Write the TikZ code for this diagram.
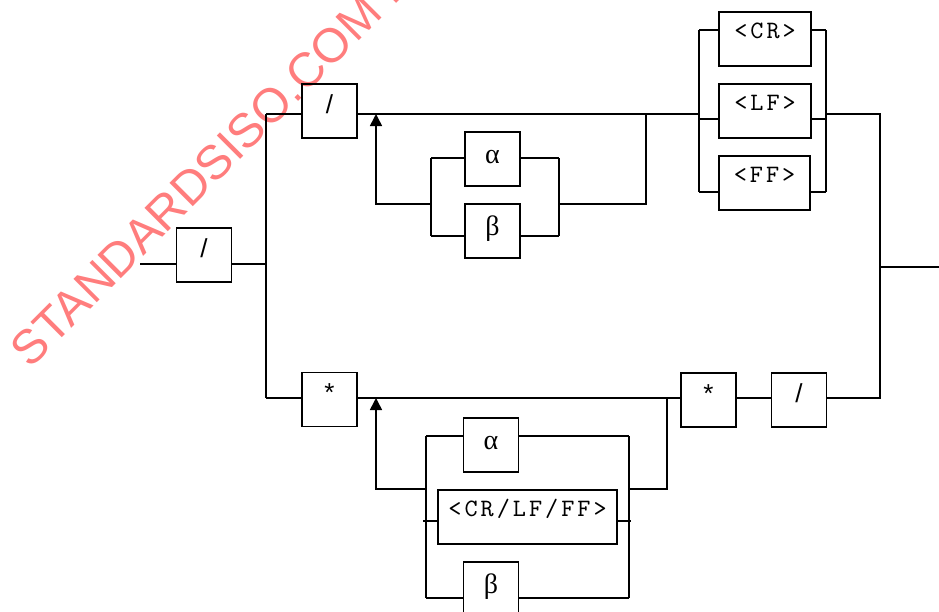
\documentclass[tikz,border=0pt]{standalone}
\usepackage{fontspec}
\setmainfont{Liberation Serif}
\newfontfamily\sansf{Liberation Sans}
\newfontfamily\monof{lmmono10-regular.otf}[LetterSpace=12]
\usetikzlibrary{arrows.meta}
\definecolor{wmred}{RGB}{255,125,125}
\begin{document}
\begin{tikzpicture}[x=1pt,y=-1pt, line width=1.6pt,
  basebox/.style={draw, minimum width=55pt, minimum height=54pt, inner xsep=2pt, inner ysep=0pt},
  sbox/.style={basebox, font=\sansf\fontsize{26}{26}\selectfont, text height=20pt, text depth=16pt},
  mbox/.style={basebox, font=\monof\fontsize{25}{25}\selectfont, text height=18pt, text depth=20pt},
  gbox/.style={basebox, font=\fontsize{28}{28}\selectfont, text height=20pt, text depth=11pt},
  fbarrow/.style={-{Triangle[width=12pt,length=12pt]}},
  watermark/.style={text=wmred, font=\sansf\fontsize{48}{48}\selectfont, rotate=45, anchor=base west, inner sep=0pt}]
\useasboundingbox (0,0) rectangle (939,611);
\clip (0,0) rectangle (939,611);
\node[watermark] (wm) at (30,370) {STANDARDSISO.COM :};
% boxes
\node[sbox] (b1) at (204,255) {/};
\node[sbox] (bs1) at (329.5,111) {/};
\node[gbox] (ba1) at (492.5,159) {α};
\node[gbox] (bb1) at (492.5,231) {β};
\node[mbox, minimum width=92pt] (CR) at (765,39) {<CR>};
\node[mbox, minimum width=92pt] (LF) at (765,111) {<LF>};
\node[mbox, minimum width=91pt] (FF) at (764.5,183) {<FF>};
\node[sbox] (bst1) at (329.5,399.5) {*};
\node[sbox] (bst2) at (708.5,400) {*};
\node[sbox] (bsl2) at (799,400) {/};
\node[gbox] (ba2) at (491,445) {α};
\node[mbox, minimum width=179pt] (bc) at (527.5,517) {<CR/LF/FF>};
\node[gbox] (bb2) at (491,589) {β};
% coordinates
\coordinate (in) at (140,264);
\coordinate (jt) at (266,114);
\coordinate (jb) at (266,398);
\coordinate (rlt) at (699,30);
\coordinate (rlb) at (699,192);
\coordinate (rrt) at (826,30);
\coordinate (rrb) at (826,192);
\coordinate (ot) at (880,114);
\coordinate (ob) at (880,398);
\coordinate (out) at (939,267);
\coordinate (l1a) at (646,114);
\coordinate (l1b) at (646,204);
\coordinate (r1t) at (559,158);
\coordinate (r1b) at (559,236);
\coordinate (q1t) at (431,158);
\coordinate (q1b) at (431,236);
\coordinate (a1) at (376,204);
\coordinate (a1t) at (376,114);
\coordinate (l2a) at (667,398);
\coordinate (l2b) at (667,489);
\coordinate (r2t) at (629,436);
\coordinate (r2b) at (629,598);
\coordinate (q2t) at (426,436);
\coordinate (q2b) at (426,598);
\coordinate (a2) at (376,489);
\coordinate (a2t) at (376,398);
\coordinate (s2l) at (423,521);
\coordinate (s2r) at (631,521);
% main line
\draw (in) -- (b1.west |- in);
\draw (b1.east |- in) -- (jt |- in);
\draw (jt) -- (jb);
\draw (jt) -- (bs1.west |- jt);
\draw (bs1.east |- jt) -- (rlt |- jt);
% CR/LF/FF group
\draw (rlt) -- (rlb);
\draw (rlt) -- (CR.west |- rlt);
\draw (rlt |- 0,119) -- (LF.west |- 0,119);
\draw (rlb) -- (FF.west |- rlb);
\draw (rrt) -- (rrb);
\draw (CR.east |- rrt) -- (rrt);
\draw (LF.east |- 0,119) -- (rrt |- 0,119);
\draw (FF.east |- rrb) -- (rrb);
\draw (rrt |- ot) -- (ot) -- (ob) -- (bsl2.east |- ob);
\draw (ot |- out) -- (out);
% upper loop
\draw (l1a) -- (l1b) -- (r1t |- l1b);
\draw (r1t) -- (r1b);
\draw (ba1.east |- r1t) -- (r1t);
\draw (bb1.east |- r1b) -- (r1b);
\draw (q1t) -- (q1b);
\draw (q1t) -- (ba1.west |- q1t);
\draw (q1b) -- (bb1.west |- q1b);
\draw[fbarrow] (q1t |- a1) -- (a1) -- (a1t);
% lower line
\draw (jb) -- (bst1.west |- jb);
\draw (bst1.east |- jb) -- (bst2.west |- jb);
\draw (bst2.east |- jb) -- (bsl2.west |- jb);
% lower loop
\draw (l2a) -- (l2b) -- (r2t |- l2b);
\draw (r2t) -- (r2b);
\draw (ba2.east |- r2t) -- (r2t);
\draw (bb2.east |- r2b) -- (r2b);
\draw (q2t) -- (q2b);
\draw (q2t) -- (ba2.west |- q2t);
\draw (q2b) -- (bb2.west |- q2b);
\draw (s2l) -- (bc.west |- s2l);
\draw (bc.east |- s2r) -- (s2r);
\draw[fbarrow] (q2t |- a2) -- (a2) -- (a2t);
\end{tikzpicture}
\end{document}
